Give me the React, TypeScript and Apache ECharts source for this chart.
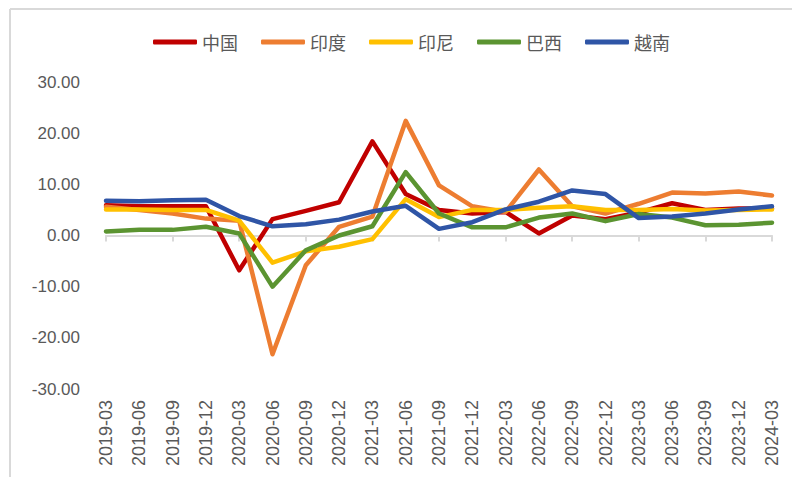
import React, { useEffect, useRef } from "react";
import * as echarts from "echarts";

const categories = [
  "2019-03", "2019-06", "2019-09", "2019-12", "2020-03", "2020-06", "2020-09",
  "2020-12", "2021-03", "2021-06", "2021-09", "2021-12", "2022-03", "2022-06",
  "2022-09", "2022-12", "2023-03", "2023-06", "2023-09", "2023-12", "2024-03",
];

const china = [5.9, 5.7, 5.7, 5.7, -6.8, 3.2, 4.8, 6.5, 18.4, 8.1, 5.0, 4.3, 4.6, 0.4, 3.9, 3.2, 4.5, 6.3, 5.0, 5.3, 5.3];
const india = [5.6, 5.0, 4.3, 3.3, 2.9, -23.2, -5.8, 1.7, 3.7, 22.4, 9.8, 5.7, 4.6, 12.9, 5.7, 4.3, 6.2, 8.4, 8.2, 8.6, 7.8];
const indonesia = [5.1, 5.1, 5.0, 5.0, 2.9, -5.3, -3.1, -2.2, -0.7, 7.1, 3.6, 5.0, 5.0, 5.4, 5.7, 5.0, 5.0, 5.2, 4.9, 5.0, 5.1];
const brazil = [0.8, 1.1, 1.1, 1.7, 0.4, -10.0, -2.9, 0.0, 1.8, 12.4, 4.3, 1.6, 1.6, 3.5, 4.3, 2.8, 4.2, 3.5, 2.0, 2.1, 2.5];
const vietnam = [6.8, 6.7, 6.9, 7.0, 3.8, 1.8, 2.2, 3.1, 4.7, 5.8, 1.3, 2.6, 5.1, 6.6, 8.8, 8.1, 3.4, 3.7, 4.3, 5.1, 5.7];

const seriesNames = ["中国", "印度", "印尼", "巴西", "越南"];
const seriesData = [china, india, indonesia, brazil, vietnam];
const colors = ["#C00000", "#ED7D31", "#FFC000", "#5B9431", "#2F55A6"];

export default function App() {
  const ref = useRef<HTMLDivElement>(null);
  useEffect(() => {
    if (!ref.current) return;
    const chart = echarts.init(ref.current, undefined, { renderer: "svg" });
    const grey = "#595959";
    chart.setOption({
      animation: false,
      backgroundColor: "#ffffff",
      color: colors,
      graphic: [
        { type: "line", shape: { x1: 10, y1: 9, x2: 792, y2: 9 }, style: { stroke: "#d9d9d9", lineWidth: 2 } },
        { type: "line", shape: { x1: 10, y1: 9, x2: 10, y2: 477 }, style: { stroke: "#d9d9d9", lineWidth: 2 } },
      ],
      legend: {
        left: 148,
        top: 28,
        icon: "roundRect",
        itemWidth: 44,
        itemHeight: 5,
        itemGap: 23,
        textStyle: { color: grey, fontSize: 18, fontFamily: "Noto Sans CJK SC" },
        data: seriesNames,
      },
      grid: { left: 106, right: 20, top: 82, bottom: 88, containLabel: false },
      xAxis: [
        {
          type: "category",
          data: categories,
          boundaryGap: false,
          axisLine: { onZero: true, lineStyle: { color: "#d9d9d9", width: 2 } },
          axisTick: { show: true, length: 6, lineStyle: { color: "#d9d9d9", width: 2 } },
          axisLabel: { show: false },
        },
        {
          type: "category",
          data: categories,
          boundaryGap: false,
          position: "bottom",
          axisLine: { show: false, onZero: false },
          axisTick: { show: false },
          axisLabel: {
            rotate: 90,
            interval: 0,
            margin: 11,
            color: grey,
            fontSize: 18,
            fontFamily: "Liberation Sans",
          },
        },
      ],
      yAxis: {
        type: "value",
        min: -30,
        max: 30,
        interval: 10,
        splitLine: { show: false },
        axisLine: { show: false },
        axisTick: { show: false },
        axisLabel: {
          margin: 26,
          color: grey,
          fontSize: 17,
          fontFamily: "Liberation Sans",
          formatter: (v: number) => v.toFixed(2),
        },
      },
      series: seriesNames.map((name, i) => ({
        name,
        type: "line",
        xAxisIndex: 0,
        data: seriesData[i],
        symbol: "none",
        lineStyle: { width: 4.5, color: colors[i], join: "round", cap: "round" },
        itemStyle: { color: colors[i] },
        z: 2 + i,
      })),
    });
    return () => chart.dispose();
  }, []);
  return <div ref={ref} style={{ position: "fixed", left: 0, top: 0, width: 792, height: 477 }} />;
}
